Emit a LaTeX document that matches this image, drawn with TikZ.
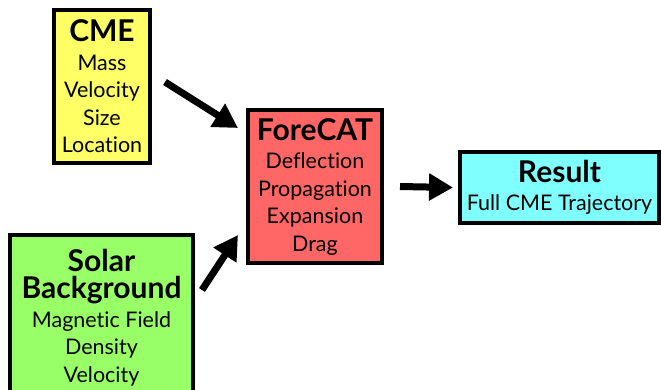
\documentclass[tikz,border=0pt]{standalone}
\usepackage{fontspec}
\setmainfont{Lato}[Ligatures=NoCommon]
\usetikzlibrary{arrows.meta}
\definecolor{cmeyellow}{RGB}{255,255,102}
\definecolor{catred}{RGB}{255,102,102}
\definecolor{rescyan}{RGB}{128,255,255}
\definecolor{solgreen}{RGB}{153,255,102}
\newcommand{\boxhead}[1]{{\fontsize{30}{32}\selectfont\bfseries #1}}

\begin{document}
\begin{tikzpicture}[x=1pt,y=-1pt,
  block/.style={draw=black,line width=4pt,align=center,inner sep=0pt,
    font=\fontsize{21.5}{27.5}\selectfont},
  flow/.style={line width=7pt,-{Triangle[length=24pt,width=26pt]}}]
\clip (0,0) rectangle (661,389);
\fill[white] (0,0) rectangle (661,389);

\node[block,fill=cmeyellow,minimum width=96pt,minimum height=153pt] (CME) at (102,86.5)
  {\boxhead{CME}\\[1pt]Mass\\Velocity\\Size\\Location};
\node[block,fill=catred,minimum width=134pt,minimum height=153pt] (ForeCAT) at (315,186.5)
  {\boxhead{ForeCAT}\\[1pt]Deflection\\Propagation\\Expansion\\Drag};
\node[block,fill=rescyan,minimum width=199pt,minimum height=71pt] (Result) at (559.5,187.5)
  {\boxhead{Result}\\[1pt]Full CME Trajectory};
\node[block,fill=solgreen,minimum width=183pt,minimum height=165pt] (Solar) at (101.5,317.5)
  {\boxhead{Solar}\\\boxhead{Background}\\[1pt]Magnetic Field\\Density\\Velocity};

\draw[flow] ([xshift=13pt,yshift=4.5pt]CME.east) -- ([xshift=-8pt,yshift=-20pt]ForeCAT.north west);
\draw[flow] ([xshift=7pt,yshift=-57pt]Solar.north east) -- ([xshift=-8pt,yshift=30pt]ForeCAT.south west);
\draw[flow] ([xshift=16pt]ForeCAT.east) -- ([xshift=-5pt]Result.west);
\end{tikzpicture}
\end{document}
